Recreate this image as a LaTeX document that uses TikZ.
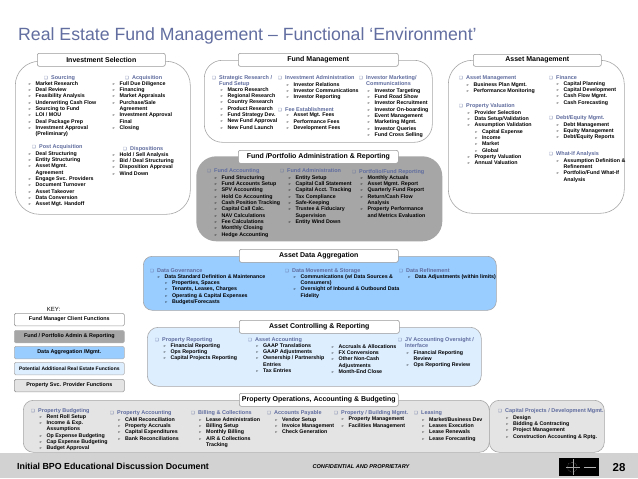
\documentclass[tikz,border=0pt]{standalone}
\usepackage{fontspec}
\setmainfont{Liberation Sans}
\newfontfamily\symfont{DejaVu Sans}
\definecolor{headblue}{HTML}{5F6C9E}
\definecolor{titleblue}{HTML}{626EA0}
\definecolor{datablue}{HTML}{99CCFF}
\definecolor{ctrlblue}{HTML}{DDEEFF}
\definecolor{panelgray}{HTML}{A6A6A6}
\definecolor{opsgray}{HTML}{E4E4E4}
\definecolor{footgray}{HTML}{D2D2D2}
\newcommand{\hb}{\makebox[7pt][l]{\symfont\fontsize{4.2}{4}\selectfont ❑}}
\newcommand{\ar}{\makebox[7.4pt][l]{\symfont\fontsize{3.6}{4}\selectfont ➢}}
\newcommand{\nb}{\hspace*{7.4pt}}
\tikzset{
  panel/.style={draw=gray!70, line width=.6pt, anchor=north west, inner sep=0pt},
  titlebox/.style={draw=gray!80, fill=white, rounded corners=2pt, line width=.6pt, anchor=north west, inner sep=0pt, font=\fontsize{7}{8}\selectfont\bfseries},
  keybox/.style={titlebox, rounded corners=1.5pt, minimum width=110pt, minimum height=12.6pt, font=\fontsize{5.4}{6}\selectfont\bfseries},
  headtxt/.style={anchor=north west, inner sep=0pt, align=left, text=headblue, font=\fontsize{5.5}{6.35}\selectfont\bfseries},
  listtxt/.style={anchor=north west, inner sep=0pt, align=left, font=\fontsize{5.3}{6.35}\selectfont\bfseries}
}
\begin{document}
\begin{tikzpicture}[x=1pt,y=-1pt]
\useasboundingbox (0,0) rectangle (638,479);
\fill[white] (0,0) rectangle (638,479);

\node[anchor=base west, inner sep=0pt, text=titleblue, font=\fontsize{17.7}{20}\selectfont] (maintitle) at (18,41) {Real Estate Fund Management – Functional ‘Environment’};

% panels
\node[panel, rounded corners=24pt, minimum width=175pt, minimum height=153pt] (invpanel) at (15,61) {};
\node[panel, rounded corners=18pt, minimum width=228pt, minimum height=82pt] (fundpanel) at (204,60) {};
\node[panel, rounded corners=20pt, draw=none, fill=panelgray, minimum width=246pt, minimum height=85pt] (adminpanel) at (196,156) {};
\node[panel, rounded corners=24pt, minimum width=176pt, minimum height=153pt] (assetpanel) at (448,60) {};
\node[panel, rounded corners=9pt, fill=datablue, minimum width=353pt, minimum height=54pt] (datapanel) at (143,256) {};
\node[panel, rounded corners=11pt, fill=ctrlblue, minimum width=334pt, minimum height=59pt] (ctrlpanel) at (147,327) {};
\node[panel, rounded corners=10pt, fill=opsgray, minimum width=466pt, minimum height=52pt] (opspanel) at (23,400) {};
\node[panel, rounded corners=10pt, fill=opsgray, minimum width=115pt, minimum height=52pt] (cappanel) at (489,400) {};

% titles
\node[titlebox, minimum width=128pt, minimum height=13pt] (invtitle) at (37,53) {Investment Selection};
\node[titlebox, minimum width=160pt, minimum height=13pt] (fundtitle) at (238,53) {Fund Management};
\node[titlebox, minimum width=160pt, minimum height=13pt] (admintitle) at (238,150) {Fund /Portfolio Administration \& Reporting};
\node[titlebox, minimum width=128pt, minimum height=12pt] (assettitle) at (473,54) {Asset Management};
\node[titlebox, minimum width=159pt, minimum height=13pt] (datatitle) at (239,249) {Asset Data Aggregation};
\node[titlebox, minimum width=160pt, minimum height=13pt] (ctrltitle) at (239,320) {Asset Controlling \& Reporting};
\node[titlebox, minimum width=159pt, minimum height=13pt] (opstitle) at (239,393) {Property Operations, Accounting \& Budgeting};

% investment selection
\node[headtxt] (srchd) at (44,75) {\hb Sourcing};
\node[listtxt] (srcli) at (28,81) {\ar Market Research\\ \ar Deal Review\\ \ar Feasibility Analysis\\ \ar Underwriting Cash Flow\\ \ar Sourcing to Fund\\ \ar LOI / MOU\\ \ar Deal Package Prep\\ \ar Investment Approval\\ \nb (Preliminary)};
\node[headtxt] (acqhd) at (125,75) {\hb Acquisition};
\node[listtxt] (acqli) at (112,81) {\ar Full Due Diligence\\ \ar Financing\\ \ar Market Appraisals\\ \ar Purchase/Sale\\ \nb Agreement\\ \ar Investment Approval\\ \nb Final\\ \ar Closing};
\node[headtxt] (posthd) at (32,144) {\hb Post Acquisition};
\node[listtxt] (postli) at (28,151) {\ar Deal Structuring\\ \ar Entity Structuring\\ \ar Asset Mgmt.\\ \nb Agreement\\ \ar Engage Svc. Providers\\ \ar Document Turnover\\ \ar Asset Takeover\\ \ar Data Conversion\\ \ar Asset Mgt. Handoff};
\node[headtxt] (disphd) at (123,146) {\hb Dispositions};
\node[listtxt] (displi) at (112,152) {\ar Hold / Sell Analysis\\ \ar Bid / Deal Structuring\\ \ar Disposition Approval\\ \ar Wind Down};

% fund management
\node[headtxt] (strathd) at (212,75) {\hb Strategic Research /\\ \hspace*{7pt}Fund Setup};
\node[listtxt] (stratli) at (220,87) {\ar Macro Research\\ \ar Regional Research\\ \ar Country Research\\ \ar Product Research\\ \ar Fund Strategy Dev.\\ \ar New Fund Approval\\ \ar New Fund Launch};
\node[headtxt] (adminhd) at (278,75) {\hb Investment Administration};
\node[listtxt] (adminli) at (286,82) {\ar Investor Relations\\ \ar Investor Communications\\ \ar Investor Reporting};
\node[headtxt] (feehd) at (278,107) {\hb Fee Establishment};
\node[listtxt] (feeli) at (286,113) {\ar Asset Mgt. Fees\\ \ar Performance Fees\\ \ar Development Fees};
\node[headtxt] (markhd) at (359,75) {\hb Investor Marketing/\\ \hspace*{7pt}Communications};
\node[listtxt] (markli) at (367,88) {\ar Investor Targeting\\ \ar Fund Road Show\\ \ar Investor Recruitment\\ \ar Investor On-boarding\\ \ar Event Management\\ \ar Marketing Mgmt.\\ \ar Investor Queries\\ \ar Fund Cross Selling};

% fund / portfolio administration
\node[headtxt] (fahd) at (207,168) {\hb Fund Accounting};
\node[listtxt] (fali) at (214,175) {\ar Fund Structuring\\ \ar Fund Accounts Setup\\ \ar SPV Accounting\\ \ar Hold Co Accounting\\ \ar Cash Position Tracking\\ \ar Capital Call Calc.\\ \ar NAV Calculations\\ \ar Fee Calculations\\ \ar Monthly Closing\\ \ar Hedge Accounting};
\node[headtxt] (fdhd) at (280,168) {\hb Fund Administration};
\node[listtxt] (fdli) at (288,175) {\ar Entity Setup\\ \ar Capital Call Statement\\ \ar Capital Acct. Tracking\\ \ar Tax Compliance\\ \ar Safe-Keeping\\ \ar Trustee \& Fiduciary\\ \nb Supervision\\ \ar Entity Wind Down};
\node[headtxt] (pfhd) at (352,169) {\hb Portfolio/Fund Reporting};
\node[listtxt] (pfli) at (360,175) {\ar Monthly Actuals\\ \ar Asset Mgmt. Report\\ \ar Quarterly Fund Report\\ \ar Return/Cash Flow\\ \nb Analysis\\ \ar Property Performance\\ \nb and Metrics Evaluation};

% asset management
\node[headtxt] (amhd) at (459,76) {\hb Asset Management};
\node[listtxt] (amli) at (466,82) {\ar Business Plan Mgmt.\\ \ar Performance Monitoring};
\node[headtxt] (pvhd) at (459,103) {\hb Property Valuation};
\node[listtxt] (pvli) at (467,110) {\ar Provider Selection\\ \ar Data Setup/Validation\\ \ar Assumption Validation\\ \nb\ar Capital Expense\\ \nb\ar Income\\ \nb\ar Market\\ \nb\ar Global\\ \ar Property Valuation\\ \ar Annual Valuation};
\node[headtxt] (finhd) at (549,75) {\hb Finance};
\node[listtxt] (finli) at (556,81) {\ar Capital Planning\\ \ar Capital Development\\ \ar Cash Flow Mgmt.\\ \ar Cash Forecasting};
\node[headtxt] (debthd) at (549,115) {\hb Debt/Equity Mgmt.};
\node[listtxt] (debtli) at (556,122) {\ar Debt Management\\ \ar Equity Management\\ \ar Debt/Equity Reports};
\node[headtxt] (whathd) at (549,151) {\hb What-If Analysis};
\node[listtxt] (whatli) at (556,158) {\ar Assumption Definition \&\\ \nb Refinement\\ \ar Portfolio/Fund What-If\\ \nb Analysis};

% asset data aggregation
\node[headtxt] (govhd) at (150,268) {\hb Data Governance};
\node[listtxt] (govli) at (157,274) {\ar Data Standard Definition \& Maintenance\\ \nb\ar Properties, Spaces\\ \nb\ar Tenants, Leases, Charges\\ \nb\ar Operating \& Capital Expenses\\ \nb\ar Budgets/Forecasts};
\node[headtxt] (movehd) at (285,268) {\hb Data Movement \& Storage};
\node[listtxt] (moveli) at (293,274) {\ar Communications (w/ Data Sources \&\\ \nb Consumers)\\ \ar Oversight of Inbound \& Outbound Data\\ \nb Fidelity};
\node[headtxt] (refhd) at (399,268) {\hb Data Refinement};
\node[listtxt] (refli) at (407.5,274) {\ar Data Adjustments (within limits)};

% asset controlling
\node[headtxt] (rephd) at (155,337) {\hb Property Reporting};
\node[listtxt] (repli) at (163,343) {\ar Financial Reporting\\ \ar Ops Reporting\\ \ar Capital Projects Reporting};
\node[headtxt] (accthd) at (248,337) {\hb Asset Accounting};
\node[listtxt] (acctli) at (255.5,343) {\ar GAAP Translations\\ \ar GAAP Adjustments\\ \ar Ownership / Partnership\\ \nb Entries\\ \ar Tax Entries};
\node[listtxt] (acrlli) at (331,344) {\ar Accruals \& Allocations\\ \ar FX Conversions\\ \ar Other Non-Cash\\ \nb Adjustments\\ \ar Month-End Close};
\node[headtxt] (jvhd) at (398,337) {\hb JV Accounting Oversight /\\ \hspace*{7pt}Interface};
\node[listtxt] (jvli) at (406,350) {\ar Financial Reporting\\ \nb Review\\ \ar Ops Reporting Review};

% property operations
\node[headtxt] (budghd) at (31,408) {\hb Property Budgeting};
\node[listtxt] (budgli) at (39,414) {\ar Rent Roll Setup\\ \ar Income \& Exp.\\ \nb Assumptions\\ \ar Op Expense Budgeting\\ \ar Cap Expense Budgeting\\ \ar Budget Approval};
\node[headtxt] (pahd) at (110,410) {\hb Property Accounting};
\node[listtxt] (pali) at (117.5,417) {\ar CAM Reconciliation\\ \ar Property Accruals\\ \ar Capital Expenditures\\ \ar Bank Reconciliations};
\node[headtxt] (billhd) at (191,410) {\hb Billing \& Collections};
\node[listtxt] (billli) at (198.5,417) {\ar Lease Administration\\ \ar Billing Setup\\ \ar Monthly Billing\\ \ar A/R \& Collections\\ \nb Tracking};
\node[headtxt] (paybhd) at (267,410) {\hb Accounts Payable};
\node[listtxt] (paybli) at (274.5,417) {\ar Vendor Setup\\ \ar Invoice Management\\ \ar Check Generation};
\node[headtxt] (bldghd) at (334,410) {\hb Property / Building Mgmt.};
\node[listtxt] (bldgli) at (341,417) {\ar Property Management\\ \ar Facilities Management};
\node[headtxt] (leashd) at (414,410) {\hb Leasing};
\node[listtxt] (leasli) at (421.5,417) {\ar Market/Business Dev\\ \ar Leases Execution\\ \ar Lease Renewals\\ \ar Lease Forecasting};
\node[headtxt] (caphd) at (498,408) {\hb Capital Projects / Development Mgmt.};
\node[listtxt] (capli) at (505.5,415) {\ar Design\\ \ar Bidding \& Contracting\\ \ar Project Management\\ \ar Construction Accounting \& Rptg.};

% key
\node[anchor=center, inner sep=0pt, font=\fontsize{6}{7}\selectfont] (keyhd) at (53.5,309.5) {KEY:};
\node[keybox] (key1) at (14,313) {Fund Manager Client Functions};
\node[keybox, fill=panelgray, draw=gray!60] (key2) at (14,330) {Fund / Portfolio Admin \& Reporting};
\node[keybox, fill=datablue, draw=gray!60] (key3) at (14,346) {Data Aggregation /Mgmt.};
\node[keybox, fill=ctrlblue, draw=gray!60, font=\fontsize{5}{6}\selectfont\bfseries] (key4) at (14,362) {Potential Additional Real Estate Functions};
\node[keybox, fill=opsgray, draw=gray!80] (key5) at (14,379) {Property Svc. Provider Functions};

% footer
\fill[footgray] (0,453) rectangle (638,478);
\node[anchor=west, inner sep=0pt, font=\fontsize{8.8}{10}\selectfont\bfseries] (footl) at (17,466) {Initial BPO Educational Discussion Document};
\node[anchor=center, inner sep=0pt, font=\fontsize{5.6}{7}\selectfont\itshape\bfseries] (footc) at (361,467) {CONFIDENTIAL AND PROPRIETARY};
\node[anchor=north west, fill=black, inner sep=0pt, minimum width=40pt, minimum height=18pt] (logo) at (559,458) {};
\draw[gray!70, densely dotted, line width=.4pt] ([xshift=-7pt]logo.center) circle (5pt);
\draw[gray!70, line width=.25pt] (566,467) -- (580,467) (573,459) -- (573,475);
\draw[gray!60, line width=.4pt] (584,467) -- (596,467);
\node[anchor=center, inner sep=0pt, font=\fontsize{11.5}{12}\selectfont\bfseries] (pagenum) at (619,467.5) {28};
\end{tikzpicture}
\end{document}
